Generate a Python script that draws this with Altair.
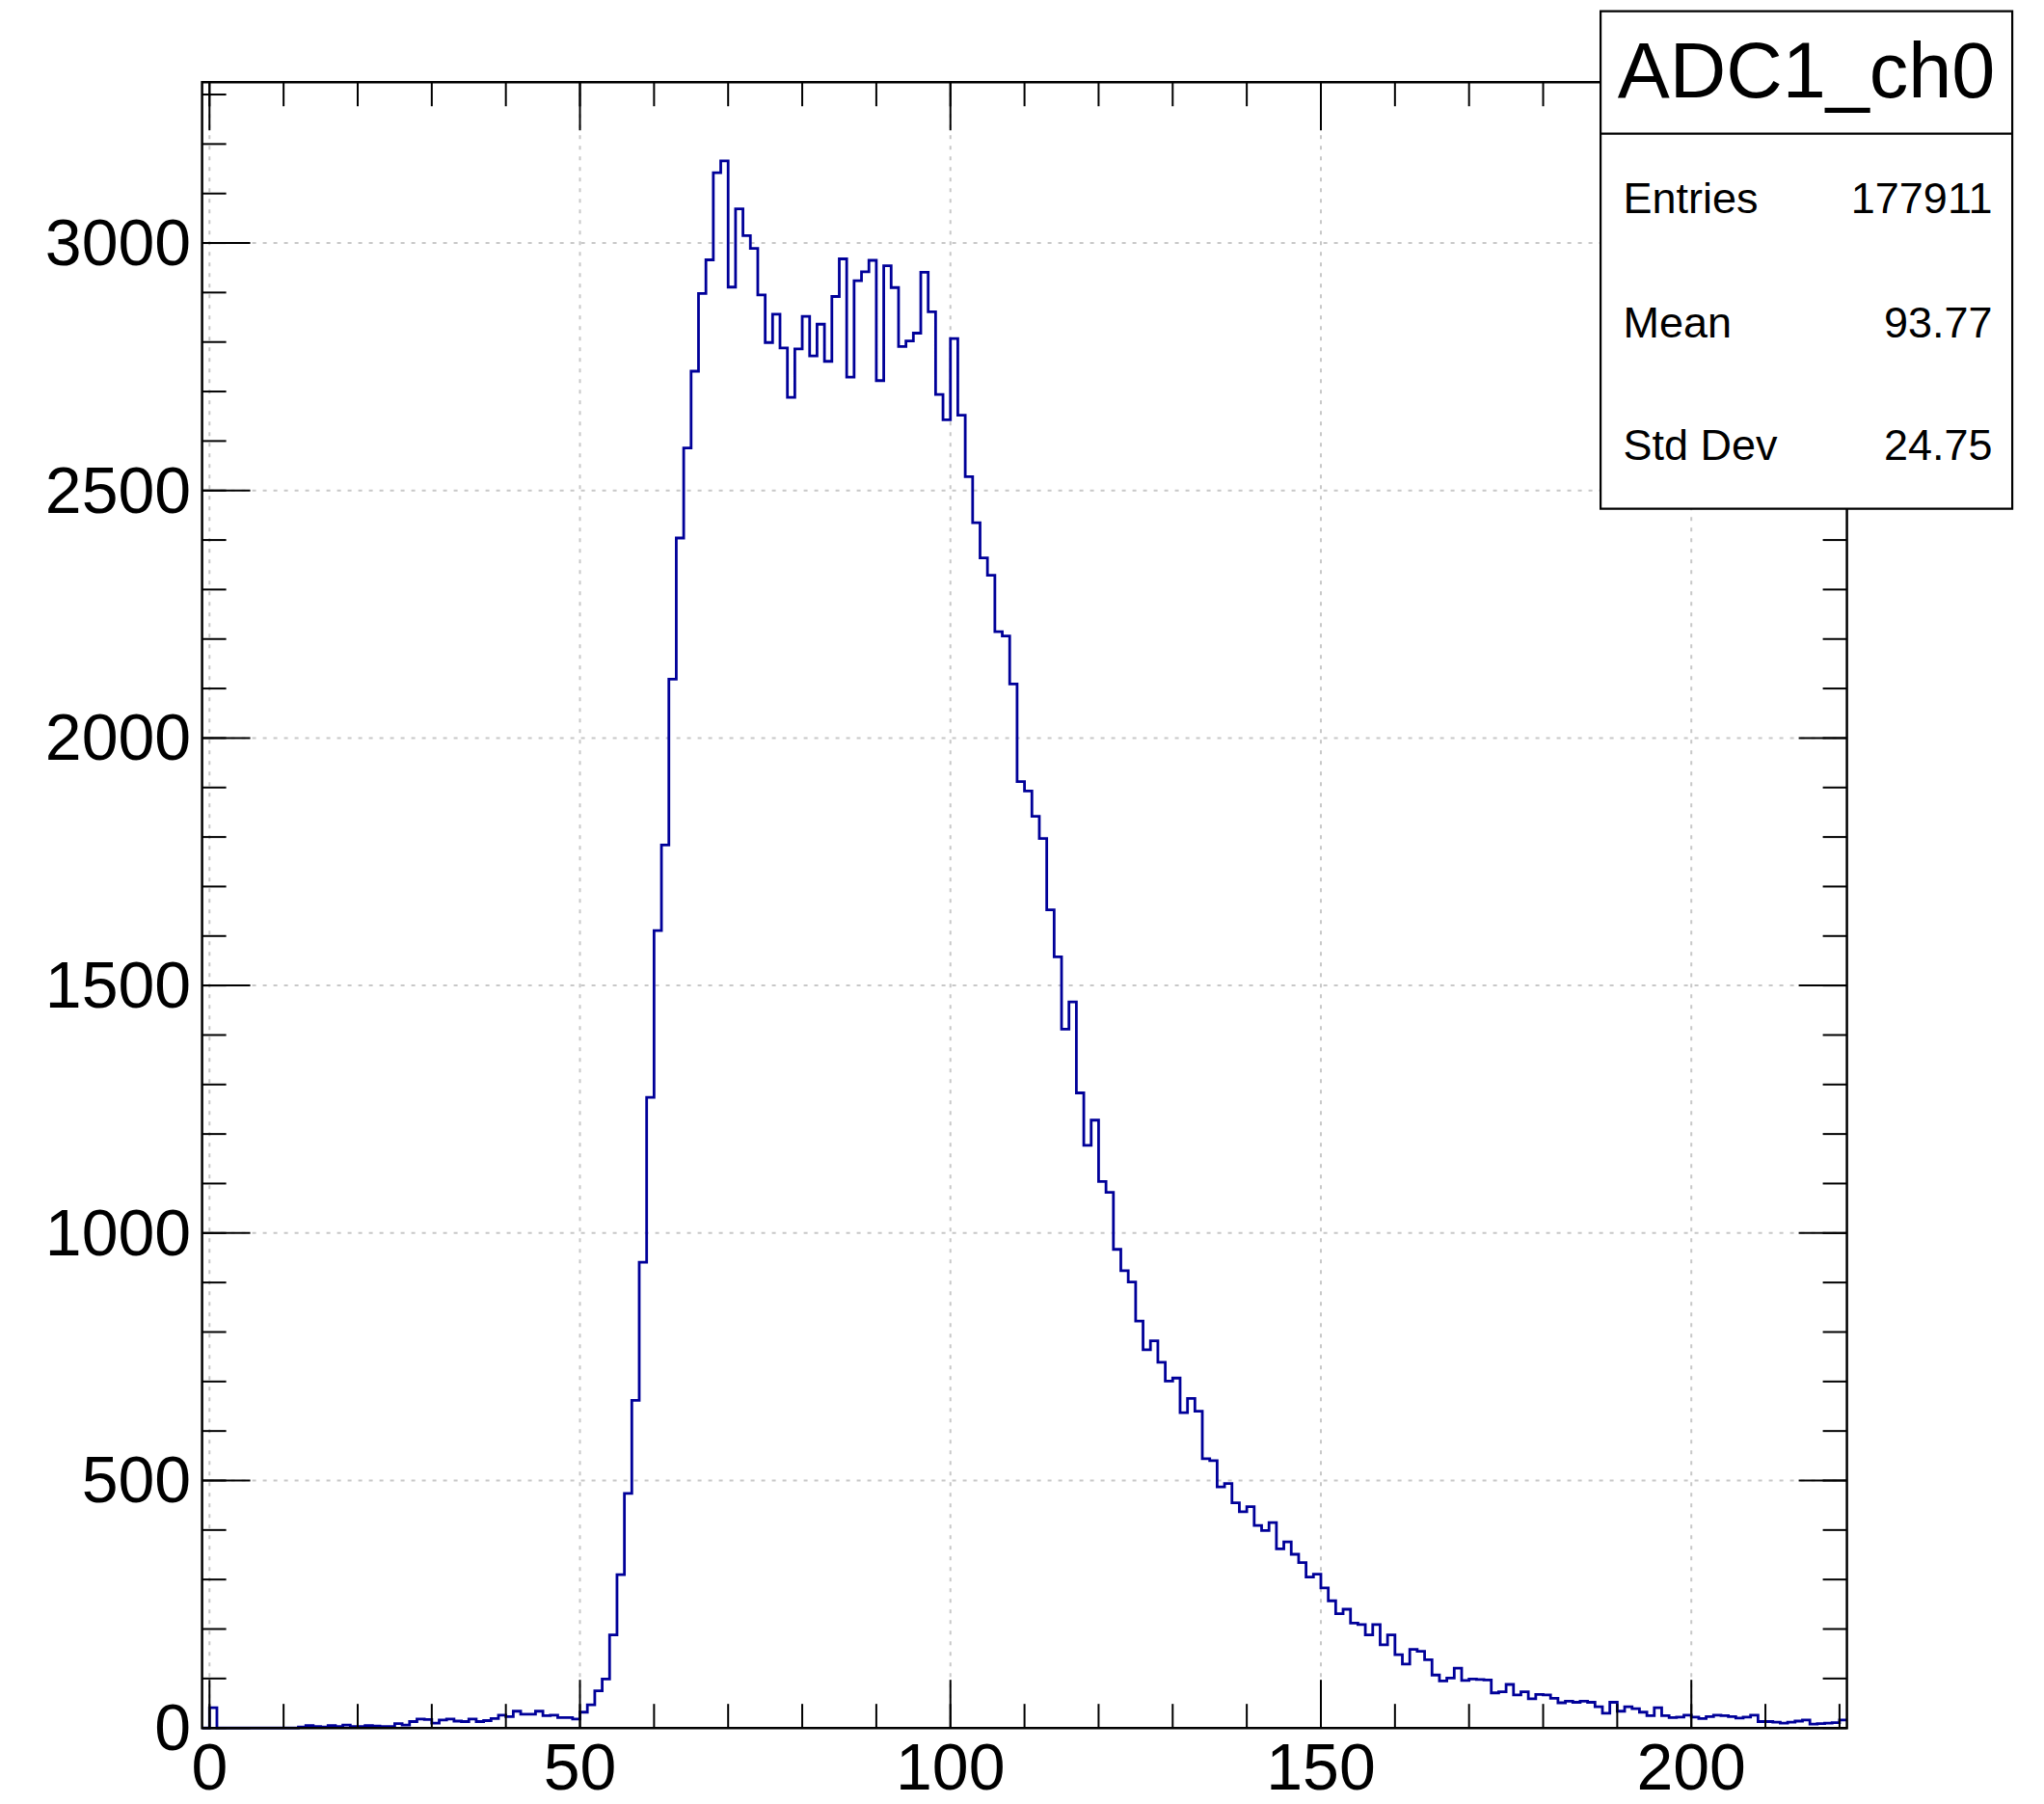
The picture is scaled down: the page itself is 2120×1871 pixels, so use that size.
import altair as alt
import pandas as pd

# ---------------- data ----------------
bin_first_edge = -1          # histogram bins of width 1, lower edges -1 .. 220
bin_counts = [
    0, 41, 0, 0, 0, 0, 0, 0, 0, 0, 0, 0,            # -1 .. 10
    0,                                               # 11
    2, 5, 3, 2, 5, 3, 6, 3, 3, 5,                    # 12 .. 21
    4, 3, 3, 9, 6, 13, 18, 17, 10, 16,               # 22 .. 31
    18, 14, 13, 18, 13, 15, 19, 26, 23, 34,          # 32 .. 41
    28, 28, 34, 25, 26, 21, 21, 18, 32, 47,          # 42 .. 51
    75, 99, 188, 310, 474, 662, 941, 1274, 1611, 1784,   # 52 .. 61
    2119, 2404, 2586, 2741, 2898, 2966, 3142, 3166, 2911, 3069,  # 62 .. 71
    3015, 2989, 2895, 2799, 2856, 2788, 2688, 2786, 2852, 2772,  # 72 .. 81
    2836, 2761, 2892, 2968, 2729, 2924, 2942, 2965, 2722, 2954,  # 82 .. 91
    2910, 2791, 2802, 2818, 2941, 2861, 2694, 2643, 2807, 2652,  # 92 .. 101
    2528, 2435, 2364, 2329, 2215, 2206, 2109, 1912, 1893, 1842,  # 102 .. 111
    1797, 1653, 1558, 1412, 1467, 1283, 1177, 1228, 1104, 1082,  # 112 .. 121
    967, 924, 901, 822, 764, 782, 739, 701, 707, 637,            # 122 .. 131
    666, 640, 544, 540, 487, 494, 455, 437, 447, 409,            # 132 .. 141
    399, 415, 362, 376, 351, 334, 305, 311, 283, 257,            # 142 .. 151
    231, 240, 212, 209, 188, 209, 168, 188, 148, 129,            # 152 .. 161
    159, 155, 138, 107, 95, 101, 121, 96, 99, 98,                # 162 .. 171
    97, 71, 73, 88, 67, 73, 59, 68, 67, 60,                      # 172 .. 181
    51, 54, 52, 54, 52, 43, 30, 52, 34, 43,                      # 182 .. 191
    39, 32, 25, 41, 25, 21, 22, 26, 22, 19,                      # 192 .. 201
    23, 26, 25, 23, 20, 22, 26, 13, 13, 12,                      # 202 .. 211
    10, 12, 14, 16, 8, 9, 10, 11, 16,                            # 212 .. 220
]
x_range = [-1, 221]
y_range = [0, 3325]
x_major = [0, 50, 100, 150, 200]
x_minor = list(range(0, 221, 10))
y_major = [0, 500, 1000, 1500, 2000, 2500, 3000]
y_minor = list(range(0, 3301, 100))
x_grid = [0, 50, 100, 150, 200]
y_grid = [500, 1000, 1500, 2000, 2500, 3000]

stats_title = "ADC1_ch0"
stats_names = ["Entries", "Mean", "Std Dev"]
stats_values = ["177911", "93.77", "24.75"]

# ---------------- build tables ----------------
edges = [bin_first_edge + i for i in range(len(bin_counts) + 1)]
hist_df = pd.DataFrame({"edge": edges, "count": bin_counts + [bin_counts[-1]]})

W, H = 1706, 1707
FONT = "Liberation Sans"
LINE = "#000099"
GRID = "#c8c8c8"

xs = alt.Scale(domain=x_range, nice=False, zero=False)
ys = alt.Scale(domain=y_range, nice=False, zero=False)

one = pd.DataFrame({"a": [0]})

grid_x = alt.Chart(pd.DataFrame({"v": x_grid})).mark_rule(
    color=GRID, strokeWidth=2, strokeDash=[4, 7]
).encode(x=alt.X("v:Q", scale=xs, axis=None))

grid_y = alt.Chart(pd.DataFrame({"v": y_grid})).mark_rule(
    color=GRID, strokeWidth=2, strokeDash=[4, 7]
).encode(y=alt.Y("v:Q", scale=ys, axis=None))

hist = alt.Chart(hist_df).mark_line(
    interpolate="step-after", color=LINE, strokeWidth=2.8
).encode(
    x=alt.X("edge:Q", scale=xs, axis=None),
    y=alt.Y("count:Q", scale=ys, axis=None),
)

# tick labels as text marks positioned through the scales
xlab = alt.Chart(pd.DataFrame({"v": x_major, "t": [str(v) for v in x_major]})).mark_text(
    font=FONT, fontSize=68, align="center", baseline="alphabetic", color="black"
).encode(x=alt.X("v:Q", scale=xs, axis=None), y=alt.value(H + 63.5), text="t:N")

ylab = alt.Chart(pd.DataFrame({"v": y_major, "t": [str(v) for v in y_major]})).mark_text(
    font=FONT, fontSize=68, align="right", baseline="alphabetic", color="black", dy=23
).encode(y=alt.Y("v:Q", scale=ys, axis=None), x=alt.value(-11.5), text="t:N")

def xticks(vals, length):
    d = pd.DataFrame({"v": vals})
    bottom = alt.Chart(d).mark_rule(color="black", strokeWidth=2).encode(
        x=alt.X("v:Q", scale=xs, axis=None), y=alt.value(H), y2=alt.value(H - length))
    top = alt.Chart(d).mark_rule(color="black", strokeWidth=2).encode(
        x=alt.X("v:Q", scale=xs, axis=None), y=alt.value(0), y2=alt.value(length))
    return [bottom, top]

def yticks(vals, length):
    d = pd.DataFrame({"v": vals})
    left = alt.Chart(d).mark_rule(color="black", strokeWidth=2).encode(
        y=alt.Y("v:Q", scale=ys, axis=None), x=alt.value(0), x2=alt.value(length))
    right = alt.Chart(d).mark_rule(color="black", strokeWidth=2).encode(
        y=alt.Y("v:Q", scale=ys, axis=None), x=alt.value(W), x2=alt.value(W - length))
    return [left, right]

ticks = xticks(x_minor, 25) + xticks(x_major, 50) + yticks(y_minor, 25) + yticks(y_major, 50)

frame = alt.Chart(one).mark_rect(filled=False, stroke="black", strokeWidth=2.5).encode(
    x=alt.value(0), x2=alt.value(W), y=alt.value(0), y2=alt.value(H))

# stats box (pixel offsets relative to the plot area)
bx0, bx1, by0, by1 = 1450.5, 1877.5, -73.5, 442.5
box = alt.Chart(one).mark_rect(fill="white", stroke="black", strokeWidth=2.2).encode(
    x=alt.value(bx0), x2=alt.value(bx1), y=alt.value(by0), y2=alt.value(by1))
sep = alt.Chart(one).mark_rule(color="black", strokeWidth=2.2).encode(
    x=alt.value(bx0), x2=alt.value(bx1), y=alt.value(53.5), y2=alt.value(53.5))
title_txt = alt.Chart(one).mark_text(
    font=FONT, fontSize=81, align="center", baseline="alphabetic", color="black"
).encode(x=alt.value((bx0 + bx1) / 2), y=alt.value(16), text=alt.value(stats_title))

rows = []
row_base = [136, 265, 391.5]
for name, val, yb in zip(stats_names, stats_values, row_base):
    rows.append(alt.Chart(one).mark_text(
        font=FONT, fontSize=45, align="left", baseline="alphabetic", color="black"
    ).encode(x=alt.value(1474), y=alt.value(yb), text=alt.value(name)))
    rows.append(alt.Chart(one).mark_text(
        font=FONT, fontSize=45, align="right", baseline="alphabetic", color="black"
    ).encode(x=alt.value(1857), y=alt.value(yb), text=alt.value(val)))

chart = alt.layer(
    grid_x, grid_y, hist, *ticks, frame, xlab, ylab, box, sep, title_txt, *rows
).properties(
    width=W, height=H,
    autosize=alt.AutoSizeParams(type="none"),
    padding={"left": 201.6, "top": 77.2, "right": 190, "bottom": 78},
    background="white",
).configure_view(stroke=None)

chart.save("out.html", embed_options={"renderer": "svg", "actions": False})
